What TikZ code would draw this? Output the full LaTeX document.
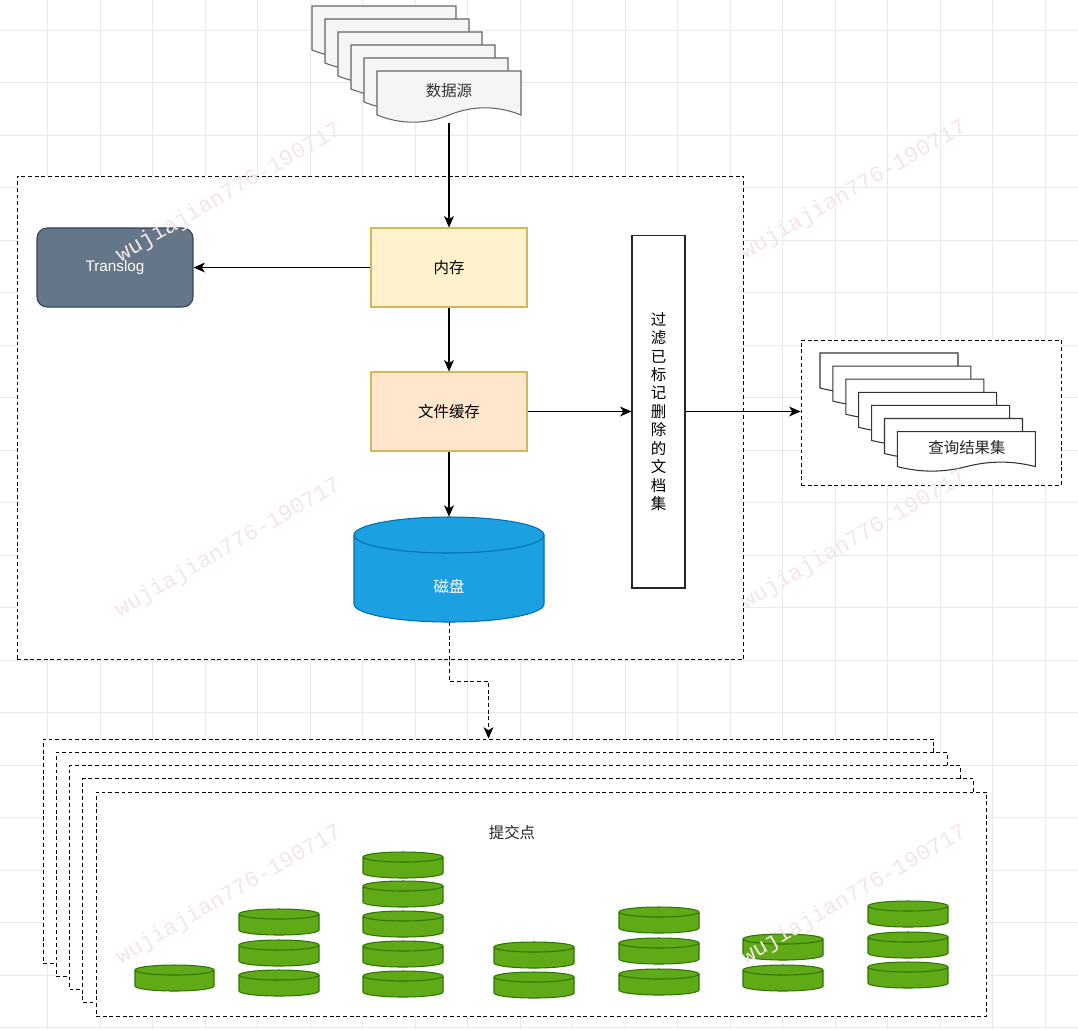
\documentclass[tikz,border=0pt]{standalone}
\usepackage{fontspec}
\setmainfont{Liberation Sans}
\newfontfamily\cjk{Noto Sans CJK SC}
\newfontfamily\wmfont{Liberation Mono}
\usetikzlibrary{arrows.meta,calc}
\definecolor{gridc}{HTML}{E9E9E9}
\definecolor{docfill}{HTML}{F5F5F5}
\definecolor{docline}{HTML}{666666}
\definecolor{memfill}{HTML}{FFF2CC}
\definecolor{memline}{HTML}{D6B656}
\definecolor{cachefill}{HTML}{FFE6CC}
\definecolor{cacheline}{HTML}{D6B656}
\definecolor{tlfill}{HTML}{647687}
\definecolor{tlline}{HTML}{314354}
\definecolor{diskfill}{HTML}{1BA1E2}
\definecolor{diskline}{HTML}{006EAF}
\definecolor{gfill}{HTML}{60A917}
\definecolor{gline}{HTML}{2D7600}
\definecolor{wmc}{HTML}{F4E6E6}
\newcommand\mydoc[6]{% style, x, y, w, h, dy
  \pgfmathsetmacro\dyb{#5-#6/2}%
  \pgfmathsetmacro\dup{\dyb-0.6*#6}%
  \pgfmathsetmacro\ddn{\dyb+0.6*#6}%
  \begin{scope}[shift={(#2,#3)}]
    \path[#1] (0,0) -- (#4,0) -- (#4,\dyb)
      .. controls ({5/6*#4},\dup) and ({2/3*#4},\dup) .. ({#4/2},\dyb)
      .. controls ({#4/3},\ddn) and ({#4/6},\ddn) .. (0,\dyb) -- cycle;
  \end{scope}}
\newcommand\mydisk[5]{% x, y, w, h, ry
  \pgfmathsetmacro\rx{#3/2}%
  \pgfmathsetmacro\kx{0.5523*#3/2}%
  \pgfmathsetmacro\ky{0.5523*#5}%
  \pgfmathsetmacro\yt{#5}%
  \pgfmathsetmacro\yb{#4-#5}%
  \begin{scope}[shift={(#1,#2)}]
    \path[diskg] (0,\yt) -- (0,\yb)
      .. controls (0,\yb+\ky) and (\rx-\kx,\yb+#5) .. (\rx,\yb+#5)
      .. controls (\rx+\kx,\yb+#5) and (#3,\yb+\ky) .. (#3,\yb)
      -- (#3,\yt)
      .. controls (#3,\yt-\ky) and (\rx+\kx,0) .. (\rx,0)
      .. controls (\rx-\kx,0) and (0,\yt-\ky) .. (0,\yt) -- cycle;
    \draw[gline, line width=0.6pt] (0,\yt)
      .. controls (0,\yt+\ky) and (\rx-\kx,\yt+#5) .. (\rx,\yt+#5)
      .. controls (\rx+\kx,\yt+#5) and (#3,\yt+\ky) .. (#3,\yt);
  \end{scope}}
\tikzset{
  txt/.style={font=\cjk\fontsize{8.8}{10.5}\selectfont},
  box/.style={draw, line width=0.6pt, inner sep=0pt, txt},
  dsh/.style={dash pattern=on 2.2pt off 1.6pt, line width=0.55pt},
  arr/.style={-{Stealth[length=6.5pt,width=5.6pt,inset=1.8pt]}, line width=0.6pt, black},
  topdoc/.style={fill=docfill, draw=docline, line width=0.6pt},
  resdoc/.style={fill=white, draw=black!80, line width=0.6pt},
  diskg/.style={fill=gfill, draw=gline, line width=0.6pt},
  wm/.style={rotate=30, text=wmc, font=\wmfont\fontsize{12.8}{14}\selectfont},
  commitbox/.style={draw, dsh, fill=white, minimum width=17.82cm, minimum height=4.48cm, inner sep=0pt}
}
\begin{document}
\begin{tikzpicture}[x=0.02cm,y=-0.02cm]
\useasboundingbox (0,0) rectangle (1078,1029);
\fill[white] (0,0) rectangle (1078,1029);
% grid
\foreach \i in {0,...,19} {\draw[gridc, line width=0.5pt] ({47.5+52.5*\i},0) -- ({47.5+52.5*\i},1029);}
\foreach \j in {0,...,19} {\draw[gridc, line width=0.5pt] (0,{30+52.5*\j}) -- (1078,{30+52.5*\j});}

% main dashed container
\node[draw, dsh, fill=white, minimum width=14.54cm, minimum height=9.68cm, inner sep=0pt] (mainbox) at (380.5,418) {};

% data source documents
\foreach \k in {0,...,5} {\mydoc{topdoc}{312+13*\k}{6+13*\k}{144}{52}{16}}
\node[txt, text=black!80] (src) at (449,91) {数据源};
\coordinate (srcbot) at (449,123);

% boxes
\node[box, fill=tlfill, draw=tlline, rounded corners=0.2cm, minimum width=3.12cm, minimum height=1.58cm, text=white, font=\fontsize{8.7}{10}\selectfont] (translog) at (115,267.5) {Translog};
\node[box, fill=memfill, draw=memline, minimum width=3.12cm, minimum height=1.58cm] (mem) at (449,267.5) {内存};
\node[box, fill=cachefill, draw=cacheline, minimum width=3.12cm, minimum height=1.58cm] (cache) at (449,411.5) {文件缓存};
\node[box, fill=white, draw=black!85, minimum width=1.06cm, minimum height=7.06cm, align=center] (filter) at (658.5,411.5) {过\\滤\\已\\标\\记\\删\\除\\的\\文\\档\\集};

% disk cylinder
\begin{scope}[shift={(354,517)}]
  \path[fill=diskfill, draw=diskline, line width=0.6pt] (0,18) -- (0,87)
    .. controls (0,96.9) and (42.5,105) .. (95,105)
    .. controls (147.5,105) and (190,96.9) .. (190,87)
    -- (190,18)
    .. controls (190,8.1) and (147.5,0) .. (95,0)
    .. controls (42.5,0) and (0,8.1) .. (0,18) -- cycle;
  \draw[diskline, line width=0.6pt] (0,18) .. controls (0,27.9) and (42.5,36) .. (95,36)
    .. controls (147.5,36) and (190,27.9) .. (190,18);
\end{scope}
\node[minimum width=3.8cm, minimum height=2.1cm, inner sep=0pt] (disk) at (449,569.5) {};
\node[txt, text=white] (disklabel) at (449,586) {磁盘};

% result box
\node[draw, dsh, fill=white, minimum width=5.2cm, minimum height=2.9cm, inner sep=0pt] (resbox) at (931,412.5) {};
\foreach \k in {0,...,6} {\mydoc{resdoc}{820+12.9*\k}{353+13.1*\k}{138}{40}{10}}
\node[txt, text=black!85] (reslabel) at (967,448) {查询结果集};

% commit point stack
\foreach \k in {0,...,4} {\node[commitbox] (r\k) at ({488.5+13.25*\k},{851+13.25*\k}) {};}
\node[txt, text=black!85] (commitlabel) at (512,833) {提交点};

% green disks
\mydisk{135}{965}{79}{26}{5}
\foreach \t in {909,940,970} {\mydisk{239}{\t}{80}{26}{5}}
\foreach \t in {852,881,911,941,971} {\mydisk{363}{\t}{80}{26}{5}}
\foreach \t in {942,972} {\mydisk{494}{\t}{80}{26}{5}}
\foreach \t in {907,938,969} {\mydisk{619}{\t}{80}{26}{5}}
\foreach \t in {934,965} {\mydisk{743}{\t}{80}{26}{5}}
\foreach \t in {901,932,962} {\mydisk{868}{\t}{80}{26}{5}}

% connectors
\coordinate (bend) at (449,681);
\draw[arr] (srcbot) -- (mem.north);
\draw[arr] (mem.west) -- (translog.east);
\draw[arr] (mem.south) -- (cache.north);
\draw[arr] (cache.south) -- (disk.north);
\draw[arr] (cache.east) -- (filter.west);
\draw[arr] (filter.east) -- (filter.east -| resbox.west);
\draw[arr, dsh] (disk.south) -- (bend) -| (r0.north);

% watermarks
\node[wm] (wm1) at (229,193) {wujiajian776-190717};
\node[wm] (wm2) at (854,190) {wujiajian776-190717};
\node[wm] (wm3) at (228,548) {wujiajian776-190717};
\node[wm] (wm4) at (854,540) {wujiajian776-190717};
\node[wm] (wm5) at (229,895) {wujiajian776-190717};
\node[wm] (wm6) at (854,895) {wujiajian776-190717};
\end{tikzpicture}
\end{document}
